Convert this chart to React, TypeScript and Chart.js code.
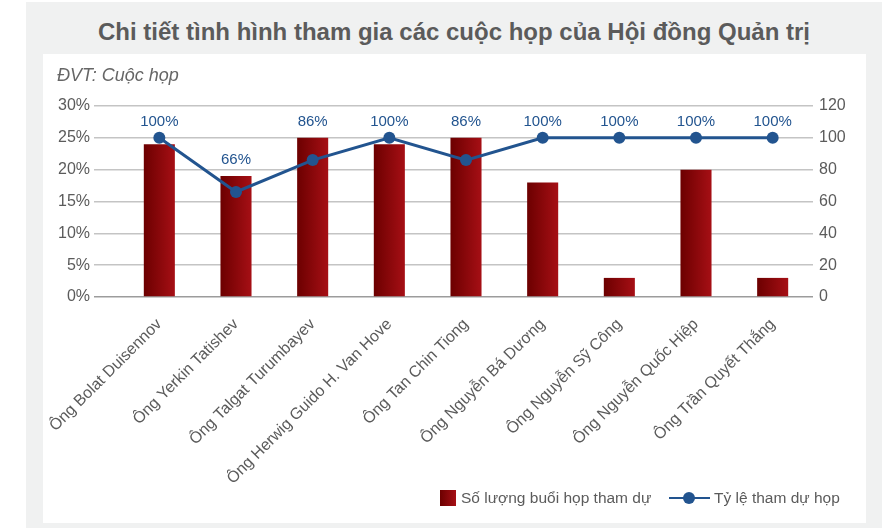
import React, { useEffect, useRef } from 'react';
import { Chart, registerables } from 'chart.js';

Chart.register(...registerables);

// Board members
const members = [
  'Ông Bolat Duisennov',
  'Ông Yerkin Tatishev',
  'Ông Talgat Turumbayev',
  'Ông Herwig Guido H. Van Hove',
  'Ông Tan Chin Tiong',
  'Ông Nguyễn Bá Dương',
  'Ông Nguyễn Sỹ Công',
  'Ông Nguyễn Quốc Hiệp',
  'Ông Trần Quyết Thắng',
];

// Number of meetings attended (left axis)
const meetingsAttended = [24, 19, 25, 24, 25, 18, 3, 20, 3];

// Attendance rate in percent (right axis)
const attendanceRate = [100, 66, 86, 100, 86, 100, 100, 100, 100];

const TITLE = 'Chi tiết tình hình tham gia các cuộc họp của Hội đồng Quản trị';
const UNIT = 'ĐVT: Cuộc họp';
const BAR_LABEL = 'Số lượng buổi họp tham dự';
const LINE_LABEL = 'Tỷ lệ tham dự họp';

const FONT = '"Liberation Sans", Arial, Helvetica, sans-serif';
const TEXT = '#5b5b5b';
const GRID = '#c4c4c4';
const ZERO = '#9c9c9c';
const BLUE = '#22548f';
const BAR_DARK = '#6c0000';
const BAR_LIGHT = '#a60f15';
const BAR_PCT = 0.405;

// Left-to-right gradient across one bar, built from the category scale
function barFill(c: any) {
  const chart = c.chart;
  const xScale = chart.scales && chart.scales.x;
  if (!xScale || c.dataIndex === undefined || !chart.chartArea) return BAR_LIGHT;
  const x = xScale.getPixelForValue(c.dataIndex);
  const half = (xScale.width / members.length) * BAR_PCT / 2;
  const g = chart.ctx.createLinearGradient(x - half, 0, x + half, 0);
  g.addColorStop(0, BAR_DARK);
  g.addColorStop(1, BAR_LIGHT);
  return g;
}

// Percentage labels above the line points
const rateLabels = {
  id: 'rateLabels',
  afterDatasetsDraw(chart: any) {
    const ctx = chart.ctx;
    const bars = chart.getDatasetMeta(0).data;
    const points = chart.getDatasetMeta(1).data;
    ctx.save();
    ctx.font = `15px ${FONT}`;
    ctx.fillStyle = BLUE;
    ctx.textAlign = 'center';
    ctx.textBaseline = 'middle';
    points.forEach((p: any, i: number) => {
      const top = Math.min(p.y, bars[i].y);
      ctx.fillText(`${attendanceRate[i]}%`, p.x, top - 16);
    });
    ctx.restore();
  },
};

function AttendanceChart() {
  const ref = useRef<HTMLCanvasElement | null>(null);

  useEffect(() => {
    if (!ref.current) return;
    const chart = new Chart(ref.current, {
      type: 'bar',
      data: {
        labels: members,
        datasets: [
          {
            type: 'bar',
            label: BAR_LABEL,
            data: meetingsAttended,
            yAxisID: 'y',
            backgroundColor: barFill,
            categoryPercentage: 1,
            barPercentage: BAR_PCT,
            order: 1,
          },
          {
            type: 'line',
            label: LINE_LABEL,
            data: attendanceRate,
            yAxisID: 'y1',
            borderColor: BLUE,
            backgroundColor: BLUE,
            borderWidth: 3,
            pointRadius: 6,
            pointBackgroundColor: BLUE,
            pointBorderWidth: 0,
            tension: 0,
            order: 0,
          },
        ] as any,
      },
      options: {
        responsive: false,
        maintainAspectRatio: false,
        animation: false,
        layout: { padding: { top: 52, left: 0, right: 0, bottom: 0 } },
        plugins: {
          legend: { display: false },
          title: { display: false },
          tooltip: { enabled: false },
        },
        scales: {
          x: {
            offset: true,
            grid: { display: false },
            border: { display: false },
            ticks: {
              color: TEXT,
              font: { family: FONT, size: 16 },
              minRotation: 45,
              maxRotation: 45,
              autoSkip: false,
              padding: 10,
            },
            afterFit(scale: any) {
              scale.height = 225;
              scale.paddingLeft = 0;
              scale.paddingRight = 0;
            },
          },
          y: {
            position: 'left',
            min: 0,
            max: 30,
            border: { display: false },
            grid: {
              color: (c: any) => (c.tick && c.tick.value === 0 ? ZERO : GRID),
              lineWidth: 1.5,
              drawTicks: true,
              tickLength: 27,
            },
            ticks: {
              stepSize: 5,
              color: TEXT,
              font: { family: FONT, size: 16 },
              padding: 4,
              callback: (v: any) => `${v}%`,
            },
            afterFit(scale: any) {
              scale.width = 78;
            },
          },
          y1: {
            position: 'right',
            min: 0,
            max: 120,
            border: { display: false },
            grid: {
              drawOnChartArea: false,
              color: (c: any) => (c.tick && c.tick.value === 0 ? ZERO : GRID),
              lineWidth: 1.5,
              drawTicks: true,
              tickLength: 2,
            },
            ticks: {
              stepSize: 20,
              color: TEXT,
              font: { family: FONT, size: 16 },
              padding: 6,
            },
            afterFit(scale: any) {
              scale.width = 55;
            },
          },
        },
      } as any,
      plugins: [rateLabels],
    });
    return () => chart.destroy();
  }, []);

  return <canvas ref={ref} width={823} height={468} style={{ display: 'block' }} />;
}

export default function App() {
  return (
    <div style={{ position: 'absolute', left: 0, top: 0, width: 893, height: 528, background: '#fff', fontFamily: FONT, overflow: 'hidden' }}>
      <div style={{ position: 'absolute', left: 26, top: 2, width: 856, height: 526, background: '#f0f1f1' }} />
      <div
        style={{
          position: 'absolute', left: 26, top: 19, width: 856, height: 26, lineHeight: '26px',
          textAlign: 'center', fontSize: 24, fontWeight: 'bold', color: TEXT, whiteSpace: 'nowrap',
        }}
      >
        {TITLE}
      </div>
      <div style={{ position: 'absolute', left: 43, top: 54, width: 823, height: 469, background: '#fff' }}>
        <div style={{ position: 'absolute', left: 0, top: 0 }}>
          <AttendanceChart />
        </div>
        <div
          style={{
            position: 'absolute', left: 14, top: 10, height: 22, lineHeight: '22px',
            fontSize: 18, fontStyle: 'italic', color: '#666', whiteSpace: 'nowrap',
          }}
        >
          {UNIT}
        </div>
        {/* legend */}
        <div style={{ position: 'absolute', left: 397, top: 436, width: 16, height: 16, background: `linear-gradient(to right, ${BAR_DARK}, ${BAR_LIGHT})` }} />
        <div style={{ position: 'absolute', left: 418, top: 434, height: 20, lineHeight: '20px', fontSize: 15.5, color: TEXT, whiteSpace: 'nowrap' }}>
          {BAR_LABEL}
        </div>
        <div style={{ position: 'absolute', left: 626, top: 443, width: 41, height: 2, background: BLUE }} />
        <div style={{ position: 'absolute', left: 640, top: 438, width: 12, height: 12, borderRadius: 6, background: BLUE }} />
        <div style={{ position: 'absolute', left: 671, top: 434, height: 20, lineHeight: '20px', fontSize: 15.5, color: TEXT, whiteSpace: 'nowrap' }}>
          {LINE_LABEL}
        </div>
      </div>
    </div>
  );
}
